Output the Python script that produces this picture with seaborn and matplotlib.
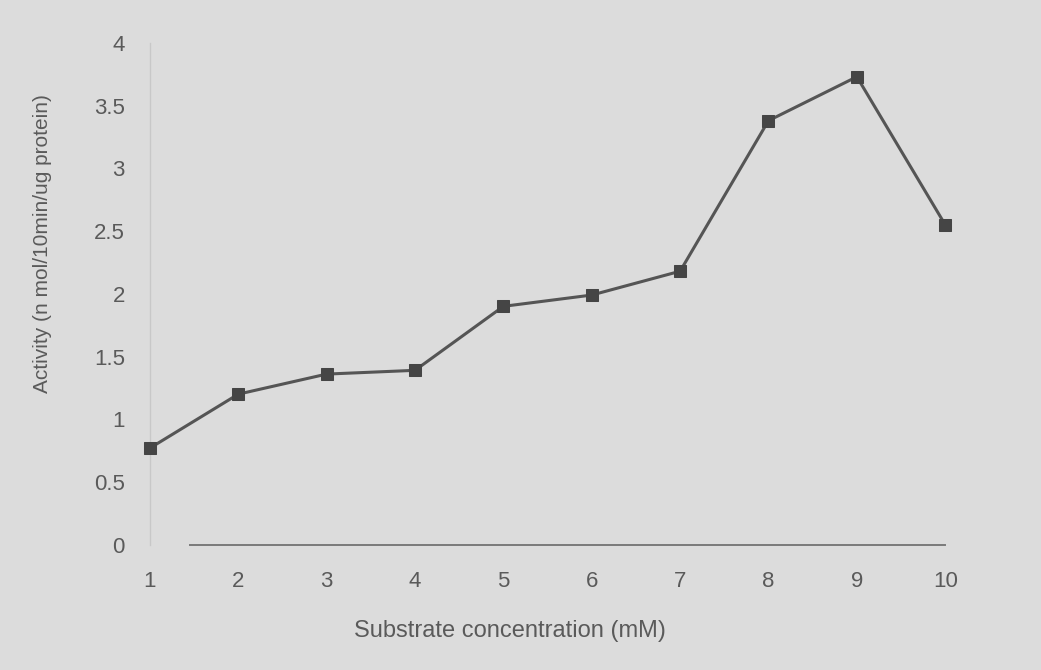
import matplotlib
matplotlib.use("Agg")
import matplotlib.pyplot as plt
import seaborn as sns
import pandas as pd

# substrate concentration (mM) vs activity
concentration = [1, 2, 3, 4, 5, 6, 7, 8, 9, 10]
activity = [0.77, 1.20, 1.36, 1.39, 1.90, 1.99, 2.18, 3.38, 3.73, 2.55]
y_ticks = [0, 0.5, 1, 1.5, 2, 2.5, 3, 3.5, 4]
y_tick_labels = ["0", "0.5", "1", "1.5", "2", "2.5", "3", "3.5", "4"]

df = pd.DataFrame({"conc": concentration, "activity": activity})

sns.set_style("white")
plt.rcParams["font.family"] = ["Liberation Sans", "DejaVu Sans"]

bg = "#dcdcdc"
text_col = "#5a5a5a"

fig = plt.figure(figsize=(10.41, 6.70), dpi=100, facecolor=bg)
ax = fig.add_axes([0.144, 0.187, 0.764, 0.749])
ax.set_facecolor(bg)

sns.lineplot(data=df, x="conc", y="activity", ax=ax, color="#555555",
             linewidth=2.2, marker="s", markersize=8,
             markerfacecolor="#454545", markeredgecolor="#454545",
             clip_on=False, zorder=5)

ax.set_xlim(1, 10)
ax.set_ylim(0, 4)
ax.set_xticks(concentration)
ax.set_xticklabels([str(c) for c in concentration])
ax.set_yticks(y_ticks)
ax.set_yticklabels(y_tick_labels)
ax.tick_params(axis="x", labelsize=16, colors=text_col, length=0, pad=19)
ax.tick_params(axis="y", labelsize=16, colors=text_col, length=0, pad=18)

for side in ["top", "right"]:
    ax.spines[side].set_visible(False)
ax.spines["left"].set_color("#c8c8c8")
ax.spines["left"].set_linewidth(1.0)
ax.spines["left"].set_zorder(0)
ax.spines["bottom"].set_color("#7a7a7a")
ax.spines["bottom"].set_linewidth(1.4)
ax.spines["bottom"].set_bounds(1.45, 10)

ax.set_xlabel("Substrate concentration (mM)", fontsize=17, color=text_col)
ax.xaxis.set_label_coords(0.453, -0.151)
ax.set_ylabel("Activity (n mol/10min/ug protein)", fontsize=15, color=text_col)
ax.yaxis.set_label_coords(-0.123, 0.60)

fig.savefig("out.png", dpi=100, facecolor=bg)
